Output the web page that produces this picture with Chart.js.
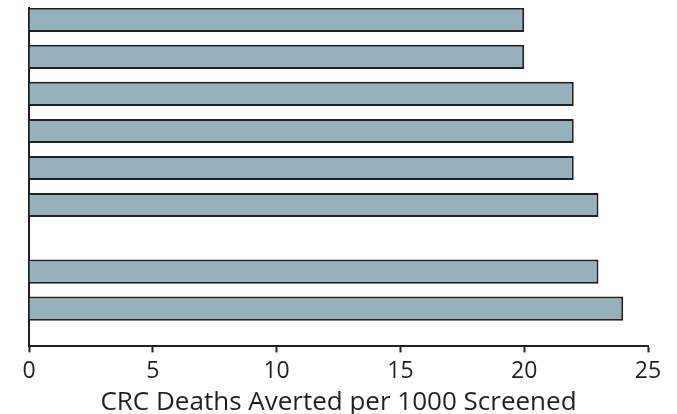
<!DOCTYPE html>
<html>
<head>
<meta charset="utf-8">
<script src="https://cdn.jsdelivr.net/npm/chart.js@4/dist/chart.umd.min.js"></script>
<style>
  html, body { margin: 0; padding: 0; background: #ffffff; }
  #wrap { width: 677px; height: 414px; position: relative; }
</style>
</head>
<body>
<div id="wrap"><canvas id="chart"></canvas></div>
<script>
// Deaths averted per 1000 screened, one value per strategy (top to bottom)
const deathsAverted = [20, 20, 22, 22, 22, 23, 23, 24];
// Row index of each bar; the last two strategies form a separate group below a break
const rowIndex = [0, 1, 2, 3, 4, 5, 6.8, 7.8];
// Value-axis ticks
const xTicks = [0, 5, 10, 15, 20, 25];
const axisTitle = 'CRC Deaths Averted per 1000 Screened';

const ink = '#231f20';
const barFill = '#94b1bc';

const points = deathsAverted.map((v, i) => ({ x: v, y: rowIndex[i] }));

new Chart(document.getElementById('chart'), {
  type: 'bar',
  data: {
    datasets: [{
      data: points,
      backgroundColor: barFill,
      borderColor: ink,
      borderWidth: 2,
      borderSkipped: 'start',
      barPercentage: 0.65,
      categoryPercentage: 1
    }]
  },
  options: {
    indexAxis: 'y',
    responsive: true,
    maintainAspectRatio: false,
    animation: false,
    layout: { padding: { top: 8, right: 29, left: 21, bottom: 0 } },
    plugins: { legend: { display: false }, tooltip: { enabled: false } },
    scales: {
      x: {
        type: 'linear',
        min: xTicks[0],
        max: xTicks[xTicks.length - 1],
        afterBuildTicks: (axis) => { axis.ticks = xTicks.map(v => ({ value: v })); },
        grid: { display: true, drawOnChartArea: false, drawTicks: true, tickLength: 6, tickWidth: 2, tickColor: ink },
        border: { display: true, color: ink, width: 2 },
        ticks: { color: ink, font: { family: 'Open Sans', size: 23 }, padding: 5, maxRotation: 0 },
        title: {
          display: true,
          text: axisTitle,
          color: ink,
          font: { family: 'Open Sans', size: 26, lineHeight: 1 },
          padding: { top: 0, bottom: -2 }
        }
      },
      y: {
        type: 'linear',
        reverse: true,
        offset: false,
        min: -0.32,
        max: 8.82,
        // one tick per bar row so the bar slot width follows the row spacing
        afterBuildTicks: (axis) => { axis.ticks = rowIndex.map(v => ({ value: v })); },
        grid: { display: false, offset: false },
        border: { display: true, color: ink, width: 2 },
        ticks: { display: false }
      }
    }
  }
});
</script>
</body>
</html>
